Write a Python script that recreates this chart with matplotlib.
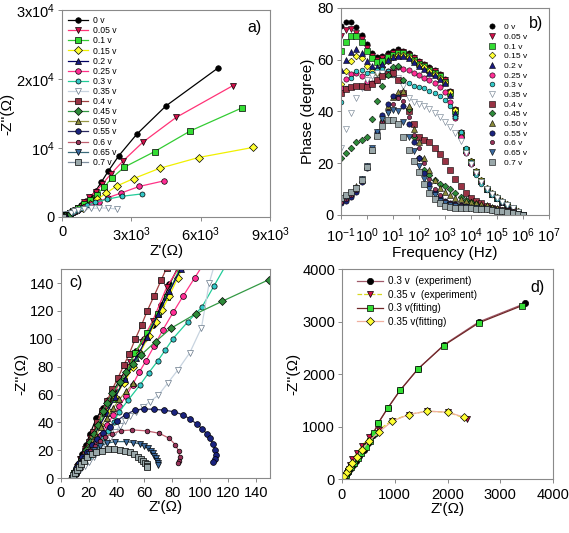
import matplotlib
matplotlib.use("Agg")
import matplotlib.pyplot as plt
from matplotlib.ticker import NullLocator

plt.rcParams["font.family"] = ["Liberation Sans", "DejaVu Sans"]
plt.rcParams["mathtext.fontset"] = "custom"
plt.rcParams["mathtext.rm"] = "Liberation Sans"
plt.rcParams["mathtext.it"] = "Liberation Sans:italic"
plt.rcParams["mathtext.bf"] = "Liberation Sans:bold"

LABELS = ["0 v", "0.05 v", "0.1 v", "0.15 v", "0.2 v", "0.25 v", "0.3 v", "0.35 v",
          "0.4 v", "0.45 v", "0.50 v", "0.55 v", "0.6 v", "0.65 v", "0.7 v"]

# Nyquist data, Z' and -Z'' in ohm (panels a and c)
ZRE_0 = [8, 10, 12, 15, 18, 21, 25.5, 30, 34, 38, 42.5, 48, 54, 60, 66, 72, 78, 84, 110, 160,
         240, 340, 480, 640, 820, 1030, 1240, 1460, 1690, 1990, 2460, 3230, 4490, 6740]
ZIM_0 = [0, 5, 10, 17, 24, 32, 43, 50, 56, 63, 71, 80, 91, 100, 110, 124, 139, 151, 200, 300,
         450, 650, 950, 1280, 1700, 2250, 2950, 3800, 5000, 6600, 8900, 12000, 16100, 21600]
ZRE_005 = [8, 9.5, 11.5, 14, 17.5, 21, 25, 30, 35, 42, 50, 58, 66, 76, 112, 165, 245, 350, 490,
           680, 929, 1171, 1457, 1743, 2100, 2629, 3500, 4929, 7386]
ZIM_005 = [0, 3.5, 8, 14, 21, 29, 37, 46, 55, 68, 83, 98, 113, 137, 195, 290, 440, 640, 930,
           1300, 2143, 2857, 3667, 4762, 6190, 8095, 10857, 14429, 19048]
ZRE_01 = [8, 9.5, 12, 15, 18.5, 22.5, 27, 32, 38, 45, 53, 62, 70, 76, 86, 115, 165, 245, 345,
          480, 700, 957, 1214, 1500, 1814, 2143, 2700, 4000, 5543, 7771]
ZIM_01 = [0, 3.5, 8, 14, 21, 29, 38, 47, 57, 70, 90, 104, 118, 130, 152, 195, 285, 425, 620,
          880, 1350, 1905, 2476, 3238, 4286, 5619, 7238, 9476, 12476, 15810]
ZRE_015 = [8, 10, 12.5, 15.5, 19, 23, 28, 33.5, 39, 45, 52, 57, 63, 68, 72.8, 78, 84, 88, 120,
           170, 250, 350, 480, 660, 886, 1214, 1529, 1900, 2357, 3100, 4214, 5900, 8271]
ZIM_015 = [0, 3.5, 8, 14, 21, 29, 38, 48, 58, 68, 80, 90, 102, 112, 121, 131, 144, 152, 200,
           280, 400, 570, 790, 1050, 1333, 1905, 2571, 3429, 4476, 5571, 7048, 8619, 10095]
ZRE_02 = [8, 10, 12.5, 15.5, 19, 23, 28, 33, 39, 46, 54, 62, 70, 78, 86, 120, 170, 240, 330,
          450, 600]
ZIM_02 = [0, 3.5, 8, 14, 21, 29, 38, 47, 58, 71, 86, 101, 118, 134, 150, 205, 290, 400, 540,
          730, 960]
ZRE_025 = [8, 10.5, 13.5, 17, 21, 25, 29, 33, 37.5, 42, 47, 51.5, 56.2, 61, 67, 73, 80.6, 88,
           96.2, 102, 130, 190, 280, 400, 520, 671, 957, 1271, 1600, 2000, 2557, 3343, 4414]
ZIM_025 = [0, 3, 7, 12, 18, 24, 31, 38, 45, 52, 59, 67, 75.9, 84, 94.8, 106, 118.9, 131,
           143.9, 153, 200, 290, 420, 580, 780, 1048, 1429, 1810, 2238, 2810, 3476, 4429, 5238]
ZRE_03 = [8, 11, 14, 17, 20, 23.5, 27, 30.5, 34, 38, 41.9, 48.4, 56.8, 63, 69.5, 75, 80.6, 91,
          101.4, 110, 118, 150, 200, 260, 330, 410, 490, 580, 689, 866, 1100, 1440, 1940,
          2597, 3475]
ZIM_03 = [0, 3, 7, 11, 14.5, 19, 23.5, 28.5, 33.5, 40, 47.7, 56.1, 66.8, 75.5, 84, 92, 100.2,
          112, 122.9, 138, 152, 195, 270, 350, 450, 560, 680, 850, 1072, 1352, 1690, 2099,
          2565, 2998, 3349]
ZRE_035 = [8, 11, 14, 17, 20, 24, 28, 32, 35.5, 38.8, 42.5, 46, 50, 53.9, 59, 63.9, 70, 76.6,
           84, 92.6, 101, 106.5, 110, 125, 150, 190, 284, 379, 518, 701, 948, 1264, 1611,
           2003, 2370]
ZIM_035 = [0, 2.5, 5.5, 8.5, 11.5, 15, 19.5, 24, 28.5, 33.4, 37.5, 41, 44.5, 47.3, 51, 54.9,
           59.5, 68, 77.6, 90, 108, 140, 152, 200, 270, 383, 491, 638, 797, 944, 1116, 1231,
           1295, 1276, 1150]
ZRE_04 = [8, 10, 12, 14.5, 17, 20, 23, 26, 29.5, 33, 37, 41, 45.2, 49, 53.4, 58, 62, 66.8, 72,
          76, 90, 110, 140]
ZIM_04 = [0, 4, 8.5, 14, 19.5, 26, 33, 40, 48, 55, 64, 72, 81, 89, 99.8, 110, 120, 130.5, 142,
          151, 185, 235, 305]
ZRE_045 = [8, 10, 12.5, 15, 18, 21, 24, 27, 30, 33.3, 37, 42.4, 47, 52, 57.5, 68, 79, 97, 116,
           149.5, 200, 260]
ZIM_045 = [0, 4, 9, 14, 20, 26, 32, 38, 48, 54, 61, 69, 76, 82, 88.3, 98, 107.5, 118, 127,
           142.5, 160, 175]
ZRE_050 = [8, 10, 12.5, 15, 18, 21.5, 25, 29, 33, 37.5, 42, 47, 52]
ZIM_050 = [0, 3.5, 8, 13, 18.5, 24.5, 30.5, 37, 43.5, 50, 56.5, 62.5, 68]
ZRE_055 = [8, 9.5, 11, 13, 15.5, 18.5, 22, 26, 30.5, 35, 40.4, 46.5, 53.2, 60, 67, 74, 81, 88,
           93, 98, 101.7, 105, 107, 109.5, 110.7, 111.2, 110.5, 109.5]
ZIM_055 = [0, 3.5, 7, 11, 15, 19, 23.5, 28, 32.5, 37, 41.3, 45.5, 48.9, 49.6, 49.4, 48.8,
           47.7, 45.3, 42.2, 38.6, 35.1, 31.6, 28.6, 24.5, 20.5, 16.5, 13.5, 11.5]
ZRE_06 = [8, 9.5, 11, 13, 15.5, 18, 21, 24.5, 28, 32, 37, 43, 51.4, 61.5, 70.6, 77.8, 82.3,
          84.7, 85.4, 85, 84]
ZIM_06 = [0, 3, 6, 9, 12.5, 16, 19.5, 23, 26.5, 29.5, 32, 34, 34.6, 33.9, 32.2, 28.6, 23.9,
          19.1, 15, 12, 10.5]
ZRE_065 = [8, 9.5, 11, 13, 15, 17.5, 20.5, 24, 28, 33, 39, 47, 52, 56.7, 60, 62.7, 64.5, 65.9,
           67, 68, 69, 69.5, 69.9]
ZIM_065 = [0, 2.5, 5, 8, 11, 14, 17.5, 20.5, 23, 25, 26.2, 26.2, 25.5, 24.6, 23, 21.5, 19.5,
           17.9, 16, 14.3, 12.5, 11, 9.5]
ZRE_07 = [8, 9, 10, 11.5, 13, 14.5, 16.5, 19, 22, 25.5, 29.5, 34, 38, 42.4, 46, 49.6, 52.5,
          55.5, 57.5, 59.1, 60.5, 61.5, 62, 62.2]
ZIM_07 = [0, 2, 4, 6, 8, 10, 12.5, 15, 17, 18.5, 19.8, 20.8, 20.8, 20.3, 19.6, 18.4, 17, 15.5,
          14, 12.4, 11.2, 10.3, 9, 7.9]

# Bode phase data (panel b)
FREQ = [0.1, 0.158, 0.251, 0.398, 0.631, 1, 1.58, 2.51, 3.98, 6.31, 10, 15.8, 25.1, 39.8,
        63.1, 100, 158, 251, 398, 631, 1e3, 1580, 2510, 3980, 6310, 1e4, 15800, 25100, 39800,
        63100, 1e5, 158000, 251000, 398000, 631000, 1e6]
PH_0 = [73, 74.5, 74.5, 72.5, 69.5, 66, 62.5, 61, 61.5, 62.5, 63.5, 64, 63.5, 62.5, 61, 59.5,
        58.5, 57, 56, 54.5, 52.5, 48, 41, 32, 25.5, 21, 16.5, 13, 10, 8, 6.5, 5, 3.8, 2.5, 1.2, 0]
PH_005 = [69, 71.5, 72, 70.5, 68, 64.5, 61.5, 60, 60.5, 61.5, 62.5, 63, 63, 62, 60.5, 59, 58,
          56.5, 55.5, 54, 52, 47.5, 40.5, 31.5, 25, 20.5, 16.5, 13, 10, 8, 6.5, 5, 3.8, 2.5,
          1.2, 0]
PH_01 = [63.5, 67, 69, 69, 67, 63.5, 60.5, 59, 59.5, 61, 62, 62.5, 62.5, 61.5, 60, 58.5, 57.5,
         56, 55, 53.5, 51.5, 47, 40, 31, 25, 20.5, 16.5, 13, 10, 8, 6.5, 5, 3.8, 2.5, 1.2, 0]
PH_015 = [50.5, 55.5, 59.5, 61.5, 60.5, 57.5, 55.5, 55, 57, 59.5, 61, 62, 62, 61, 59.5, 58, 57,
          55.5, 54.5, 53, 51.5, 47.5, 40.5, 31.5, 25.5, 21, 17, 13.5, 10.5, 8.5, 6.8, 5.2, 4,
          2.6, 1.3, 0]
PH_02 = [56, 60, 63, 64, 62.5, 59.5, 57.5, 57, 58.5, 60, 61, 61.5, 61.5, 60.5, 59, 57.5, 56.5,
         55, 54, 52.5, 51, 46.5, 39.5, 31, 25, 20.5, 16.5, 13, 10, 8, 6.5, 5, 3.8, 2.5, 1.2, 0]
PH_025 = [49, 52.5, 54.5, 55, 53.5, 51.5, 51, 52, 54, 55.5, 56.5, 57, 56.5, 56, 55, 54, 53, 52,
          51, 49.5, 47.5, 43.5, 37.5, 30, 24, 19.5, 16, 12.5, 10, 8, 6.5, 5, 3.8, 2.5, 1.2, 0]
PH_03 = [43.5, 49, 53, 55.5, 56, 55, 55, 56, 56.5, 55.5, 54, 52.5, 51.5, 51, 50, 49.5, 49, 48,
         47, 46, 44.5, 42, 38, 32, 26, 20.5, 15.5, 12, 9.5, 7.5, 6, 4.8, 3.6, 2.4, 1.2, 0]
PH_035 = [26, 33, 39.5, 45, 49, 52, 53.5, 55, 55, 54.5, 54.5, 53, 50, 45, 43.5, 43, 42, 41,
          39.5, 38, 36, 34, 31.5, 28.5, 24, 19.5, 16, 12.5, 10, 8, 6.5, 5, 3.8, 2.5, 1.2, 0]
PH_04 = [47, 48.5, 49.5, 50, 50, 49.5, 50.5, 52, 53.5, 54.5, 55, 52, 47, 40, 35, 30, 29, 28,
         26, 23.5, 21, 17.5, 14, 11, 8.5, 6.5, 5.2, 4.5, 3.5, 2.8, 2.2, 1.8, 1.3, 0.9, 0.5, 0]
PH_045 = [22, 24, 26, 28, 29, 30, 37, 44, 50, 54, 57, 57.5, 52, 41, 30, 22, 17.5, 15.5, 13.5,
          12, 11, 10, 8.5, 7, 5.8, 5, 4.2, 3.5, 3, 2.5, 2, 1.6, 1.2, 0.8, 0.4, 0]
PH_050 = [6, 7, 8.5, 11, 14, 19, 25, 31, 37, 42, 45.5, 47.5, 48, 42, 33, 28, 22, 17.5, 13.5,
          10.5, 9, 7.5, 6.5, 6, 5.5, 5, 4.6, 4.2, 3.7, 3.2, 2.6, 2, 1.5, 1, 0.5, 0]
PH_055 = [4.5, 5.5, 7, 9, 12.5, 18, 25, 32, 38.5, 43, 46, 45.5, 42, 35, 28, 22, 16, 12, 9, 7,
          5.5, 4.5, 4, 3.6, 3.3, 3, 2.8, 2.5, 2.2, 1.9, 1.6, 1.3, 1, 0.7, 0.4, 0]
PH_06 = [5, 6, 7.5, 9.5, 13, 18.5, 25, 31, 36, 40, 43, 45, 44, 38, 31, 26, 20, 14, 10, 7.5,
         5.5, 4.5, 4, 3.6, 3.3, 3, 2.8, 2.5, 2.2, 1.9, 1.6, 1.3, 1, 0.7, 0.4, 0]
PH_065 = [6, 7, 8.5, 10.5, 14, 19, 26, 32, 37, 39.5, 40.5, 40, 36, 30, 24.5, 19, 14, 10, 7.5,
          5.5, 4.5, 3.8, 3.4, 3.1, 2.9, 2.7, 2.5, 2.3, 2.1, 1.9, 1.6, 1.3, 1, 0.7, 0.4, 0]
PH_07 = [6.5, 7.5, 9, 10.5, 13.5, 18.5, 25, 30.5, 34.5, 36.5, 36.5, 35, 30, 25, 21, 16.5, 12,
         8.5, 6, 4.5, 3.5, 3, 2.8, 2.7, 2.6, 2.5, 2.4, 2.3, 2.1, 1.9, 1.6, 1.3, 1, 0.7, 0.4, 0]

# Fitted curves (panel d)
FIT_RE_03 = [8, 30, 70, 120, 170, 230, 300, 370, 450, 530, 600, 689, 866, 1100, 1440, 1927,
             2597, 3412]
FIT_IM_03 = [0, 30, 85, 155, 225, 310, 400, 500, 610, 730, 880, 1072, 1352, 1690, 2099, 2545,
             2979, 3305]
FIT_RE_035 = [8, 40, 90, 140, 190, 284, 379, 518, 701, 948, 1264, 1611, 2003, 2319]
FIT_IM_035 = [0, 55, 130, 210, 300, 420, 560, 730, 900, 1100, 1231, 1295, 1276, 1180]

ZRE = [ZRE_0, ZRE_005, ZRE_01, ZRE_015, ZRE_02, ZRE_025, ZRE_03, ZRE_035, ZRE_04, ZRE_045,
       ZRE_050, ZRE_055, ZRE_06, ZRE_065, ZRE_07]
ZIM = [ZIM_0, ZIM_005, ZIM_01, ZIM_015, ZIM_02, ZIM_025, ZIM_03, ZIM_035, ZIM_04, ZIM_045,
       ZIM_050, ZIM_055, ZIM_06, ZIM_065, ZIM_07]
PHASE = [PH_0, PH_005, PH_01, PH_015, PH_02, PH_025, PH_03, PH_035, PH_04, PH_045, PH_050,
         PH_055, PH_06, PH_065, PH_07]

# styles
MARKERS = ["o", "v", "s", "D", "^", "o", "o", "v", "s", "D", "^", "o", "o", "v", "s"]
FACES = ["#000000", "#d0104a", "#33dd33", "#ffff33", "#1a1a80", "#ff2d95", "#33c8c8",
         "#ffffff", "#993344", "#2e8b3a", "#8a8a3a", "#1a237e", "#99335a", "#3a6aa0",
         "#9aa8aa"]
EDGES = ["black"] * 7 + ["#667788"] + ["black"] * 7
LINES = ["#000000", "#ff3377", "#33cc33", "#f0f000", "#000066", "#ff3388", "#22cc99",
         "#c8d4e0", "#a04040", "#339944", "#999944", "#2a2a60", "#c06070", "#3a6a7a",
         "#8090a0"]
SIZES = [4, 4, 4, 3.6, 4, 4, 3.6, 4, 4, 3.6, 4, 4, 3.2, 4, 4]

FS_TICK = 10.5
FS_LAB = 11


def style_axes(ax, xpad=3):
    for sp in ax.spines.values():
        sp.set_color("#8a8a8a")
        sp.set_linewidth(0.8)
    ax.tick_params(direction="out", length=3, width=0.7, color="#8a8a8a",
                   labelsize=FS_TICK, pad=2)
    ax.tick_params(axis="x", pad=xpad)


fig = plt.figure(figsize=(5.69, 5.33), dpi=100)

# ---- a) Nyquist, full range
ax = fig.add_axes([0.109, 0.593, 0.366, 0.388])
for i in range(len(LABELS)):
    ax.plot(ZRE[i], ZIM[i], color=LINES[i], lw=0.9, marker=MARKERS[i], ms=SIZES[i],
            mfc=FACES[i], mec=EDGES[i], mew=0.5, label=LABELS[i])
ax.set_xlim(0, 9000)
ax.set_ylim(0, 30000)
ax.set_xticks([0, 3000, 6000, 9000])
ax.set_xticklabels(["0", "3x10$^3$", "6x10$^3$", "9x10$^3$"])
ax.set_yticks([0, 10000, 20000, 30000])
ax.set_yticklabels(["0", "10$^4$", "2x10$^4$", "3x10$^4$"])
ax.set_xlabel("Z'(Ω)", fontsize=FS_LAB, labelpad=0)
ax.set_ylabel("-Z''(Ω)", fontsize=FS_LAB, labelpad=1)
ax.legend(loc="upper left", bbox_to_anchor=(0.0, 1.0), frameon=False, fontsize=6.2,
          labelspacing=0.13, handlelength=2.3, handletextpad=0.6, borderaxespad=0.3)
ax.text(0.96, 0.95, "a)", transform=ax.transAxes, ha="right", va="top", fontsize=11.5)
style_axes(ax)

# ---- b) Bode phase
ax = fig.add_axes([0.599, 0.597, 0.366, 0.388])
for i in range(len(LABELS)):
    ax.semilogx(FREQ, PHASE[i], ls="none", marker=MARKERS[i], ms=SIZES[i] * 0.95,
                mfc=FACES[i], mec=EDGES[i], mew=0.4, label=LABELS[i])
ax.set_xlim(0.1, 1e7)
ax.set_ylim(0, 80)
ax.set_xticks([0.1, 1, 10, 100, 1e3, 1e4, 1e5, 1e6, 1e7])
ax.xaxis.set_minor_locator(NullLocator())
ax.set_yticks([0, 20, 40, 60, 80])
ax.set_xlabel("Frequency (Hz)", fontsize=FS_LAB, labelpad=1)
ax.set_ylabel("Phase (degree)", fontsize=FS_LAB, labelpad=2)
ax.legend(loc="upper right", bbox_to_anchor=(0.92, 0.95), frameon=False, fontsize=6,
          labelspacing=0.22, handlelength=1.0, handletextpad=1.0, borderaxespad=0.2)
ax.text(0.97, 0.96, "b)", transform=ax.transAxes, ha="right", va="top", fontsize=11.5)
style_axes(ax, xpad=5)

# ---- c) Nyquist, high-frequency zoom
ax = fig.add_axes([0.107, 0.103, 0.367, 0.392])
for i in range(len(LABELS)):
    ax.plot(ZRE[i], ZIM[i], color=LINES[i], lw=0.9, marker=MARKERS[i], ms=SIZES[i] * 1.05,
            mfc=FACES[i], mec=EDGES[i], mew=0.5)
ax.set_xlim(0, 150)
ax.set_ylim(0, 150)
ax.set_xticks(range(0, 141, 20))
ax.set_yticks(range(0, 141, 20))
ax.set_xlabel("Z'(Ω)", fontsize=FS_LAB, labelpad=0)
ax.set_ylabel("-Z''(Ω)", fontsize=FS_LAB, labelpad=1)
ax.text(0.04, 0.97, "c)", transform=ax.transAxes, ha="left", va="top", fontsize=11.5)
style_axes(ax)

# ---- d) experiment vs fitting
ax = fig.add_axes([0.601, 0.101, 0.371, 0.394])
ax.plot(ZRE_03, ZIM_03, color="#a05a6a", lw=0.9, marker="o", ms=4.5, mfc="black",
        mec="black", mew=0.5, label="0.3 v  (experiment)")
ax.plot(ZRE_035, ZIM_035, color="#d8d820", lw=0.9, ls="--", marker="v", ms=4.5,
        mfc="#d0104a", mec="black", mew=0.5, label="0.35 v  (experiment)")
ax.plot(FIT_RE_03, FIT_IM_03, color="#702828", lw=0.9, marker="s", ms=4.5, mfc="#33dd33",
        mec="black", mew=0.5, label="0.3 v(fitting)")
ax.plot(FIT_RE_035, FIT_IM_035, color="#f0b0a0", lw=0.9, marker="D", ms=4, mfc="#ffff33",
        mec="black", mew=0.5, label="0.35 v(fitting)")
ax.set_xlim(0, 4000)
ax.set_ylim(0, 4000)
ax.set_xticks([0, 1000, 2000, 3000, 4000])
ax.set_yticks([0, 1000, 2000, 3000, 4000])
ax.set_xlabel("Z'(Ω)", fontsize=FS_LAB, labelpad=0)
ax.set_ylabel("-Z''(Ω)", fontsize=FS_LAB, labelpad=1)
ax.legend(loc="upper left", bbox_to_anchor=(0.04, 1.0), frameon=False, fontsize=7.2,
          labelspacing=0.35, handlelength=2.6, handletextpad=0.5, borderaxespad=0.3)
ax.text(0.96, 0.95, "d)", transform=ax.transAxes, ha="right", va="top", fontsize=11.5)
style_axes(ax)

fig.savefig("out.png", dpi=100)
